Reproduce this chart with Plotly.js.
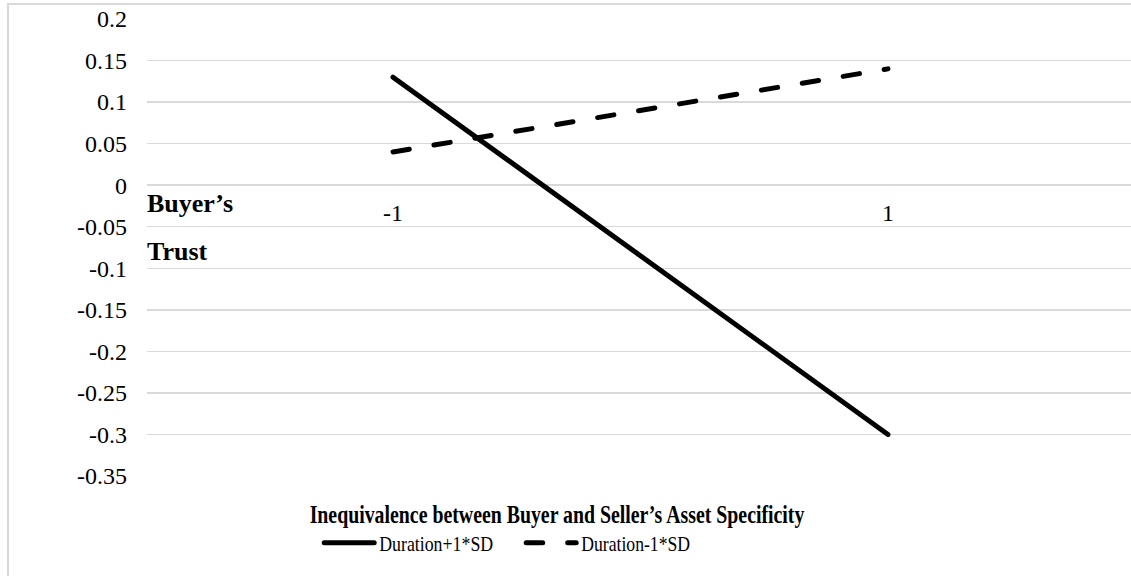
<!DOCTYPE html>
<html>
<head>
<meta charset="utf-8">
<script src="https://cdn.plot.ly/plotly-3.0.1.min.js"></script>
<style>
  html, body { margin: 0; padding: 0; background: #fff; overflow: hidden; }
  #wrap { position: relative; width: 1131px; height: 576px; overflow: hidden; }
  #chart { position: absolute; left: 0; top: 0; width: 1131px; height: 576px; }
  #frame { position: absolute; left: 7px; top: 3px; width: 2000px; height: 2000px;
           border-left: 2px solid #d9d9d9; border-top: 2px solid #d9d9d9; pointer-events: none; }
</style>
</head>
<body>
<div id="wrap">
  <div id="chart"></div>
  <div id="frame"></div>
</div>
<script>
// ---- data ----
const xVals = [-1, 1];
const xLabels = ['-1', '1'];
const seriesNames = ['Duration+1*SD', 'Duration-1*SD'];
const durationPlus = [0.13, -0.30];
const durationMinus = [0.04, 0.14];
const yTickVals = [0.2, 0.15, 0.1, 0.05, 0, -0.05, -0.1, -0.15, -0.2, -0.25, -0.3, -0.35];
const yTickText = ['0.2', '0.15', '0.1', '0.05', '0', '-0.05', '-0.1', '-0.15', '-0.2', '-0.25', '-0.3', '-0.35'];
const xTitle = 'Inequivalence between Buyer and Seller\u2019s Asset Specificity';
const yTitleLines = ['Buyer\u2019s', 'Trust'];

const FONT = 'Liberation Serif';

const data = [
  { x: xVals, y: durationPlus, name: seriesNames[0], type: 'scatter', mode: 'lines',
    line: { color: '#000', width: 5, dash: 'solid' } },
  { x: xVals, y: durationMinus, name: seriesNames[1], type: 'scatter', mode: 'lines',
    line: { color: '#000', width: 5, dash: '16.5px,25px' } }
];

const annotations = xVals.map((v, i) => ({
  x: v, y: 0, xref: 'x', yref: 'y', text: xLabels[i], showarrow: false,
  xanchor: 'center', yanchor: 'middle', yshift: -28,
  font: { family: FONT, size: 24, color: '#000' }
}));
annotations.push({
  x: 0, y: (476 - 203) / 457, xref: 'paper', yref: 'paper', text: '<b>' + yTitleLines[0] + '</b>',
  showarrow: false, xanchor: 'left', yanchor: 'middle', xshift: -2,
  font: { family: FONT, size: 26, color: '#000' }
});
annotations.push({
  x: 0, y: (476 - 251) / 457, xref: 'paper', yref: 'paper', text: '<b>' + yTitleLines[1] + '</b>',
  showarrow: false, xanchor: 'left', yanchor: 'middle', xshift: -2,
  font: { family: FONT, size: 26, color: '#000' }
});

const layout = {
  width: 1131, height: 576,
  margin: { l: 147, r: 0, t: 19, b: 100, pad: 0 },
  paper_bgcolor: '#fff', plot_bgcolor: '#fff',
  font: { family: FONT, color: '#000' },
  showlegend: true,
  title: {
    text: '<b>' + xTitle + '</b>',
    font: { family: FONT, size: 26, color: '#000' },
    xref: 'container', yref: 'container', x: 557 / 1131, y: 1 - 514 / 576,
    xanchor: 'center', yanchor: 'middle'
  },
  xaxis: {
    range: [-1.994, 1.982], showgrid: false, zeroline: false, showline: false,
    showticklabels: false, ticks: '', fixedrange: true
  },
  yaxis: {
    range: [-0.35, 0.2], tickmode: 'array', tickvals: yTickVals, ticktext: yTickText,
    showgrid: true, gridcolor: '#d9d9d9', gridwidth: 1.5, zeroline: false, showline: false,
    ticks: '', ticklabelstandoff: 19,
    tickfont: { family: FONT, size: 24, color: '#000' }, fixedrange: true
  },
  legend: {
    orientation: 'h', x: 0.175, xanchor: 'left', y: 1 - 543 / 576, yref: 'container', yanchor: 'middle',
    font: { family: FONT, size: 21, color: '#000' }, bgcolor: 'rgba(0,0,0,0)',
    itemwidth: 50, entrywidth: 137, traceorder: 'normal'
  },
  annotations: annotations
};

Plotly.newPlot('chart', data, layout, { staticPlot: true, displayModeBar: false }).then(gd => {
  // round caps like the reference
  gd.querySelectorAll('.scatterlayer path.js-line').forEach(p => {
    p.style.strokeLinecap = 'round';
  });
  gd.querySelectorAll('.legend path').forEach(p => {
    p.style.strokeLinecap = 'round';
  });
  // Condense title text horizontally (reference text is narrow)
  const t = gd.querySelector('.g-gtitle text');
  if (t) {
    const bb = t.getBBox();
    const s = 495 / bb.width;
    const cx = bb.x + bb.width / 2;
    const prev = t.getAttribute('transform') || '';
    t.setAttribute('transform', prev + ` translate(${cx},0) scale(${s},1) translate(${-cx},0)`);
  }
  const legendTextWidths = [114, 109];
  gd.querySelectorAll('.legend .traces text.legendtext').forEach((el, i) => {
    const x0 = parseFloat(el.getAttribute('x')) || 0;
    const bb = el.getBBox();
    const s = legendTextWidths[i % 2] / bb.width;
    const prev = el.getAttribute('transform') || '';
    el.setAttribute('transform', prev + ` translate(${x0},0) scale(${s},1) translate(${-x0},0)`);
  });
});
</script>
</body>
</html>
